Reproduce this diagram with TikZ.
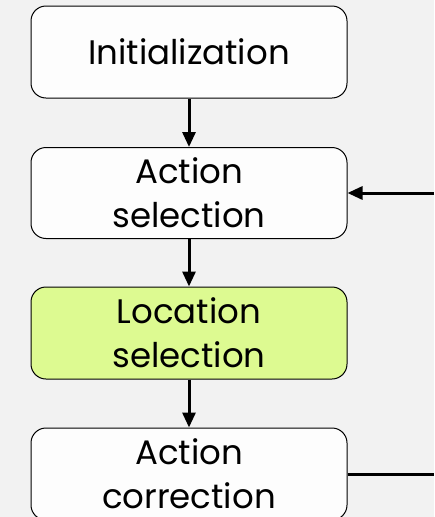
\documentclass[tikz,border=0pt]{standalone}
\usepackage{fontspec}
\setmainfont{Poppins}
\usetikzlibrary{arrows.meta}
\definecolor{bg}{HTML}{F2F2F2}
\definecolor{boxfill}{HTML}{FDFDFD}
\definecolor{hl}{HTML}{DDFA91}
\tikzset{
  stepbox/.style={draw=black, line width=1pt, rounded corners=15pt, fill=boxfill,
    minimum width=316pt, minimum height=92pt, inner sep=0pt, align=center,
    font=\fontsize{34}{44}\selectfont},
  conn/.style={line width=3pt, -{Triangle[length=15pt,width=13pt]}},
  plainconn/.style={line width=3pt}
}
\begin{document}
\begin{tikzpicture}[x=1pt,y=-1pt]
\useasboundingbox[fill=bg] (0,0) rectangle (434,517);
\begin{scope}
\clip (0,0) rectangle (434,517);
\node[stepbox] (init) at (189,52) {Initialization};
\node[stepbox, minimum height=91pt] (asel) at (189,193) {Action\\selection};
\node[stepbox, fill=hl] (lsel) at (189,333) {Location\\selection};
\node[stepbox] (acor) at (189,474) {Action\\correction};
\coordinate (r1) at (434,474);
\coordinate (r2) at (434,193);
\draw[conn] (init) -- (asel);
\draw[conn] (asel) -- (lsel);
\draw[conn] (lsel) -- (acor);
\draw[plainconn] (acor.east) -- (r1);
\draw[conn] (r2) -- (asel.east);
\end{scope}
\end{tikzpicture}
\end{document}
